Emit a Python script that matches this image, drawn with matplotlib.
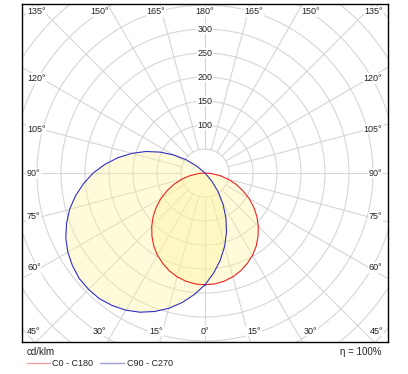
import numpy as np
import matplotlib.pyplot as plt
from matplotlib.lines import Line2D
from matplotlib.patches import Circle

plt.rcParams['font.family'] = ['Liberation Sans', 'DejaVu Sans']

# gamma angles (deg) and luminous intensity in cd/klm per C-plane
gamma = np.arange(0, 181, 5)
c0 = [233, 232, 229, 224, 217, 208, 198, 186, 172, 157, 141, 124, 106, 87, 69, 50, 32, 14, 0,
      0, 0, 0, 0, 0, 0, 0, 0, 0, 0, 0, 0, 0, 0, 0, 0, 0, 0]
c180 = [233, 232, 229, 224, 217, 208, 198, 186, 172, 157, 141, 124, 106, 87, 69, 50, 32, 14, 0,
        0, 0, 0, 0, 0, 0, 0, 0, 0, 0, 0, 0, 0, 0, 0, 0, 0, 0]
c90 = [233, 209, 184, 158, 131, 103, 75, 48, 22, 0, 0, 0, 0, 0, 0, 0, 0, 0, 0,
       0, 0, 0, 0, 0, 0, 0, 0, 0, 0, 0, 0, 0, 0, 0, 0, 0, 0]
c270 = [233, 254, 274, 292, 307, 320, 330, 337, 342, 343, 342, 337, 330, 320, 307, 292, 274, 254, 233,
        209, 184, 158, 131, 103, 75, 48, 22, 0, 0, 0, 0, 0, 0, 0, 0, 0, 0]

radial_ticks = [100, 150, 200, 250, 300]
top_labels = ['135°', '150°', '165°', '180°', '165°', '150°', '135°']
side_labels = ['120°', '105°', '90°', '75°', '60°']
bottom_labels = ['45°', '30°', '15°', '0°', '15°', '30°', '45°']

W, H = 408, 374
PX = 50 / 24.0          # cd/klm per pixel
fig = plt.figure(figsize=(W / 100, H / 100), dpi=100)
ax = fig.add_axes([22 / W, (H - 342) / H, 366 / W, 338 / H])
ax.set_xlim(-183 * PX, 183 * PX)
ax.set_ylim(-169 * PX, 169 * PX)
ax.set_xticks([])
ax.set_yticks([])
for s in ax.spines.values():
    s.set_linewidth(1.0)
    s.set_color('black')

grid_c = '#d6d6d6'
for r in range(50, 601, 50):
    ax.add_patch(Circle((0, 0), r, fill=False, ec=grid_c, lw=0.8, zorder=1))
for a in range(0, 360, 15):
    t = np.radians(a)
    ax.plot([50 * np.sin(t), 700 * np.sin(t)], [-50 * np.cos(t), -700 * np.cos(t)],
            color=grid_c, lw=0.8, zorder=1)


def plane_xy(right, left):
    g = np.radians(gamma)
    r1 = np.asarray(right, float)
    r2 = np.asarray(left, float)
    x = np.concatenate([r1 * np.sin(g), (-r2 * np.sin(g))[::-1]])
    y = np.concatenate([-r1 * np.cos(g), (-r2 * np.cos(g))[::-1]])
    return x, y


fill_c = '#fff59a'
x1, y1 = plane_xy(c0, c180)
x2, y2 = plane_xy(c90, c270)
ax.fill(x2, y2, color=fill_c, alpha=0.36, lw=0, zorder=2)
ax.fill(x1, y1, color=fill_c, alpha=0.36, lw=0, zorder=2)
ax.plot(x1, y1, color='#ee2222', lw=0.8, zorder=4)
ax.plot(x2, y2, color='#3030c0', lw=0.8, zorder=4)

fs = 6.5
box = dict(facecolor='white', edgecolor='none', pad=0.6)
for r in radial_ticks:
    ax.text(0, r, str(r), ha='center', va='center', fontsize=fs, color='#222222',
            bbox=box, zorder=5)

# angle labels around the frame
top_ang = [135, 150, 165, 180, 165, 150, 135]
for i, (lab, a) in enumerate(zip(top_labels, top_ang)):
    side = -1 if i < 3 else 1
    if a == 135:
        x = side * 178 * PX
        ha = 'left' if side < 0 else 'right'
    else:
        x = side * 183 * np.tan(np.radians(180 - a)) * PX
        ha = 'center'
    ax.text(x, 161 * PX, lab, ha=ha, va='center', fontsize=fs, color='#222222', bbox=box, zorder=5)

side_ang = [120, 105, 90, 75, 60]
for lab, a in zip(side_labels, side_ang):
    y = 164 * np.tan(np.radians(a - 90)) * PX
    ax.text(-178 * PX, y, lab, ha='left', va='center', fontsize=fs, color='#222222', bbox=box, zorder=5)
    ax.text(177 * PX, y, lab, ha='right', va='center', fontsize=fs, color='#222222', bbox=box, zorder=5)

bot_ang = [45, 30, 15, 0, 15, 30, 45]
for i, (lab, a) in enumerate(zip(bottom_labels, bot_ang)):
    side = -1 if i < 3 else 1
    if a == 45:
        x = side * 178 * PX
        ha = 'left' if side < 0 else 'right'
    else:
        x = side * 183 * np.tan(np.radians(a)) * PX
        ha = 'center'
    ax.text(x, -158 * PX, lab, ha=ha, va='center', fontsize=fs, color='#222222', bbox=box, zorder=5)

# footer / legend
fig.text(27 / W, 1 - 352 / H, 'cd/klm', fontsize=7, va='center', ha='left', color='#222222')
fig.text(381 / W, 1 - 352 / H, 'η = 100%', fontsize=7, va='center', ha='right', color='#222222')
yl = 1 - 363 / H
fig.add_artist(Line2D([27 / W, 50 / W], [yl, yl], color='#f0a0a0', lw=1.0))
fig.text(52 / W, yl, 'C0 - C180', fontsize=6.5, va='center', ha='left', color='#222222')
fig.add_artist(Line2D([100 / W, 124 / W], [yl, yl], color='#a0a0dc', lw=1.0))
fig.text(127 / W, yl, 'C90 - C270', fontsize=6.5, va='center', ha='left', color='#222222')

fig.savefig('out.png', dpi=100)
